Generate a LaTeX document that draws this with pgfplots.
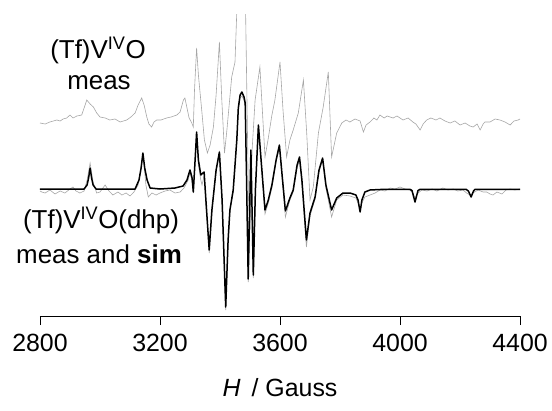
\documentclass[border=0pt]{standalone}
\usepackage{fontspec}
\setmainfont{Liberation Sans}
\usepackage{pgfplots}
\pgfplotsset{compat=1.18}
\begin{document}
\begin{tikzpicture}[x=1bp,y=1bp]
\useasboundingbox (-40,-94) rectangle (512,316);
\begin{axis}[
  at={(0,0)}, anchor=south west,
  scale only axis, width=480bp, height=301bp,
  xmin=2800, xmax=4400, ymin=0, ymax=301,
  axis x line*=bottom, axis y line=none,
  xtick={2800,3200,3600,4000,4400},
  tick align=outside, major tick length=9bp,
  every tick/.style={black, line width=0.9bp},
  axis line style={black, line width=0.9bp},
  /pgf/number format/1000 sep={},
  /pgf/number format/assume math mode=true,
  ticklabel style={font=\fontsize{25}{30}\selectfont},
  xticklabel style={yshift=-6bp},
  xlabel={\textit{H}\, / Gauss},
  xlabel style={font=\fontsize{25}{30}\selectfont, yshift=-19bp},
  clip=true,
]
% upper trace (Tf)VO measured
\addplot[gray!70, line width=0.6bp] coordinates {
(2800,193)(2817,192)(2833,194)(2856,196)(2867,195)(2877,197)(2889,198)(2900,201)(2910,198)(2923,200)
(2939,201)(2947,208)(2956,216)(2967,212)(2978,209)(2989,203)(3000,199)(3017,198)(3033,196)(3050,197)
(3067,194)(3089,196)(3103,199)(3117,203)(3127,211)(3139,218)(3147,211)(3156,199)(3163,192)(3172,189)
(3180,194)(3189,196)(3203,196)(3222,198)(3237,199)(3256,201)(3267,204)(3278,216)(3283,218)(3290,208)
(3297,198)(3306,193)(3311,189)(3315,226)(3322,268)(3328,241)(3339,206)(3348,176)(3358,163)(3367,171)
(3378,189)(3387,221)(3398,274)(3406,216)(3415,163)(3423,186)(3439,239)(3450,254)(3459,330)(3484,330)
(3495,116)(3500,86)(3507,166)(3517,216)(3533,249)(3543,196)(3550,159)(3560,176)(3573,201)(3583,216)
(3600,254)(3610,206)(3622,159)(3633,176)(3644,186)(3661,203)(3678,236)(3689,183)(3700,116)(3711,129)
(3728,183)(3744,209)(3761,244)(3772,159)(3789,183)(3806,193)(3820,196)(3833,194)(3850,197)(3867,195)
(3878,184)(3887,191)(3900,194)(3913,198)(3923,196)(3933,201)(3947,198)(3957,200)(3977,198)(3990,200)
(4010,196)(4027,198)(4043,194)(4053,192)(4067,186)(4077,192)(4089,196)(4103,198)(4120,196)(4133,198)
(4150,195)(4167,193)(4183,195)(4200,191)(4217,193)(4233,190)(4244,189)(4257,192)(4267,186)(4277,192)
(4283,194)(4300,194)(4317,197)(4333,196)(4350,194)(4367,191)(4380,195)(4394,196)(4400,197)
};
% lower trace measured
\addplot[gray!70, line width=0.6bp] coordinates {
(2800,125)(2806,124)(2817,123)(2833,126)(2850,122)(2867,125)(2883,123)(2900,127)(2910,129)(2920,125)
(2933,123)(2947,125)(2957,136)(2967,153)(2977,134)(2989,123)(3000,124)(3017,131)(3030,125)(3043,121)
(3060,124)(3073,121)(3087,123)(3100,120)(3113,124)(3127,131)(3144,161)(3153,131)(3161,119)(3173,123)
(3187,121)(3200,123)(3217,125)(3233,126)(3250,123)(3267,124)(3280,128)(3294,136)(3300,144)(3307,134)
(3311,123)(3317,156)(3322,181)(3328,151)(3336,136)(3340,131)(3347,140)(3353,111)(3364,63)(3373,104)
(3387,144)(3398,163)(3407,113)(3419,6)(3427,74)(3433,104)(3444,124)(3456,174)(3461,206)(3467,218)
(3473,220)(3480,216)(3484,210)(3488,144)(3494,34)(3503,164)(3511,38)(3518,124)(3528,188)(3537,153)
(3550,102)(3561,113)(3573,128)(3587,154)(3598,169)(3607,138)(3618,99)(3633,116)(3644,124)(3657,148)
(3665,156)(3673,132)(3688,69)(3700,100)(3717,117)(3730,144)(3742,156)(3753,128)(3772,99)(3789,116)
(3810,121)(3833,120)(3853,118)(3860,113)(3867,106)(3873,113)(3883,119)(3900,121)(3917,123)(3933,126)
(3950,125)(3967,128)(3983,127)(4000,129)(4017,127)(4033,126)(4043,123)(4050,118)(4060,123)(4073,126)
(4090,125)(4107,127)(4123,125)(4143,128)(4160,126)(4177,127)(4193,125)(4210,126)(4222,123)(4233,121)
(4243,123)(4260,126)(4277,124)(4289,124)(4300,122)(4310,121)(4323,124)(4340,122)(4353,126)(4367,127)
(4383,126)(4400,127)
};
% lower trace simulated
\addplot[black, line width=1.5bp, line join=round] coordinates {
(2800,127)(2947,127)(2957,131)(2962,138)(2967,148)(2972,138)(2977,131)(2987,127)(3117,127)(3130,136)
(3137,148)(3143,163)(3149,148)(3157,136)(3167,128)(3200,127)(3250,128)(3277,130)(3290,136)(3300,146)
(3307,138)(3311,124)(3317,156)(3322,184)(3328,156)(3336,141)(3347,144)(3353,116)(3364,66)(3373,106)
(3387,146)(3398,164)(3407,116)(3419,9)(3427,76)(3433,106)(3444,126)(3456,176)(3461,208)(3467,221)
(3473,224)(3480,219)(3484,213)(3488,146)(3494,37)(3503,166)(3511,41)(3518,126)(3528,191)(3537,156)
(3550,106)(3561,116)(3573,131)(3587,156)(3598,171)(3607,141)(3618,105)(3633,118)(3644,126)(3657,151)
(3665,159)(3673,136)(3688,76)(3700,103)(3717,119)(3730,146)(3742,158)(3753,131)(3772,106)(3789,118)
(3810,123)(3833,123)(3853,121)(3860,116)(3867,104)(3873,116)(3883,124)(3900,126)(3933,126.5)(4033,126.7)
(4040,125.5)(4050,114)(4060,125.5)(4067,126.7)(4220,126.7)(4228,125)(4237,119)(4245,125)(4250,126.7)
(4400,126.7)
};
\end{axis}
\node[anchor=base, font=\fontsize{26}{31}\selectfont] at (58,258) {(Tf)V\textsuperscript{IV}O};
\node[anchor=base, font=\fontsize{26}{31}\selectfont] at (59,227) {meas};
\node[anchor=base, font=\fontsize{26}{31}\selectfont] at (61,88) {(Tf)V\textsuperscript{IV}O(dhp)};
\node[anchor=base, font=\fontsize{26}{31}\selectfont] at (59,53) {meas and \textbf{sim}};
\end{tikzpicture}
\end{document}
